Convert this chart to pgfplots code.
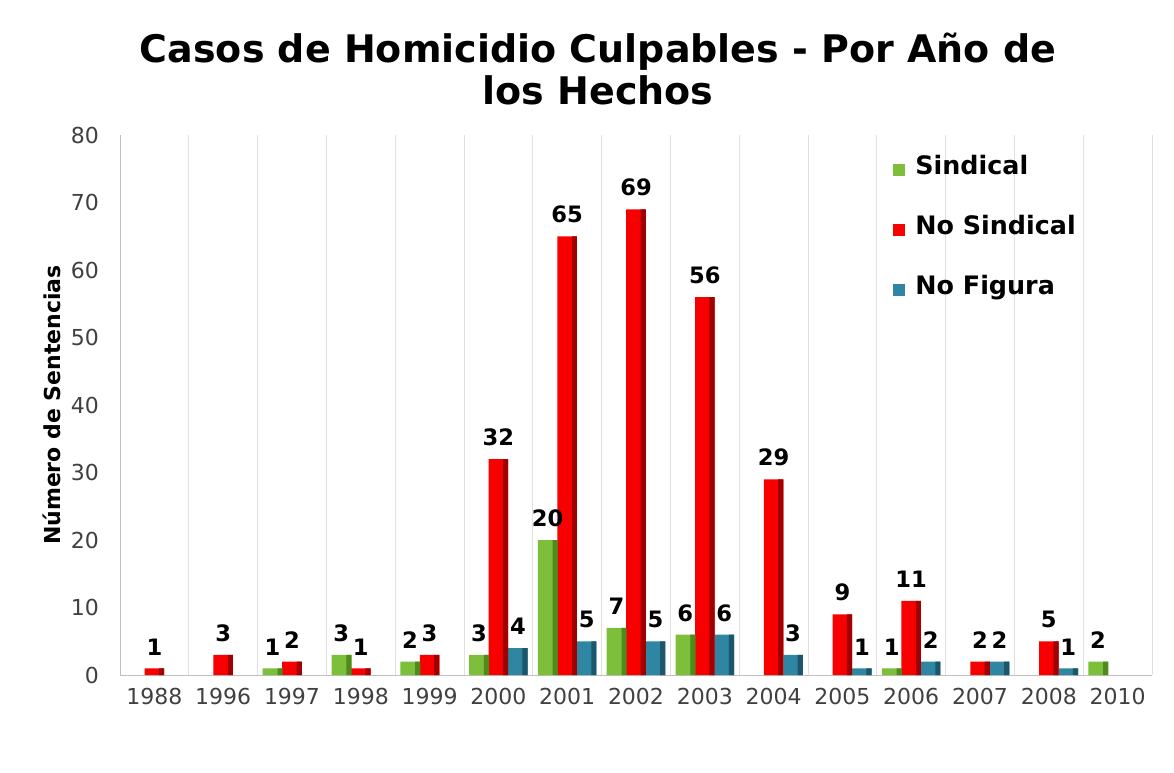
\documentclass[border=0pt]{standalone}
\usepackage{fontspec}
\setmainfont{DejaVu Sans}
\usepackage{pgfplots}
\pgfplotsset{compat=1.18}
\definecolor{sinL}{HTML}{7DBE3A}
\definecolor{sinD}{HTML}{4E8A1C}
\definecolor{nosL}{HTML}{F80000}
\definecolor{nosD}{HTML}{A00000}
\definecolor{nofL}{HTML}{2F86A2}
\definecolor{nofD}{HTML}{1B566B}
\definecolor{tickgray}{HTML}{404040}

\pgfplotstableread{
x sin nos nof
0 0 1 0
1 0 3 0
2 1 2 0
3 3 1 0
4 2 3 0
5 3 32 4
6 20 65 5
7 7 69 5
8 6 56 6
9 0 29 3
10 0 9 1
11 1 11 2
12 0 2 2
13 0 5 1
14 2 0 0
}\datatab

\pgfplotsset{
  mainbar/.style={draw=none, fill=#1, nodes near coords,
    y filter/.expression={y==0 ? nan : y}},
  edgebar/.style={draw=none, fill=#1, forget plot, bar width=2.6pt,
    y filter/.expression={y==0 ? nan : y}},
}

\begin{document}
\begin{tikzpicture}
% page frame, same proportions as the reference
\path (-60pt,-48.5pt) rectangle (527pt,337.5pt);
\begin{axis}[name=ax, at={(0,0)}, anchor=south west, scale only axis,
  width=516pt, height=270pt,
  ybar=0pt, bar width=9.75pt,
  xmin=-0.5, xmax=14.5, ymin=0, ymax=80, ytick={0,10,...,80},
  xtick={0,...,14},
  xticklabels={1988,1996,1997,1998,1999,2000,2001,2002,2003,2004,2005,2006,2007,2008,2010},
  minor xtick={-0.5,0.5,...,14.5}, xminorgrids, minor grid style={black!12},
  axis x line*=bottom, axis y line*=left, axis line style={black!25},
  major tick length=0pt, minor tick length=0pt,
  tick label style={font=\fontsize{11}{13}\selectfont, text=tickgray},
  /pgf/number format/assume math mode=true,
  xticklabel style={yshift=-3pt}, yticklabel style={xshift=-7pt},
  ylabel={Número de Sentencias},
  ylabel style={font=\bfseries\fontsize{11}{13}\selectfont, at={(axis description cs:-0.066,0.5)}, anchor=center},
  nodes near coords style={font=\bfseries\fontsize{11.3}{13}\selectfont, text=black, yshift=3pt},
  legend style={at={(rel axis cs:0.749,0.962)}, anchor=north west, draw=none, fill=none, inner sep=0pt,
    font=\bfseries\fontsize{12.7}{15}\selectfont, /tikz/row sep=16pt, /tikz/column sep=3pt, legend cell align=left,
    nodes={text height=0.75em, text depth=0.25em}},
  legend image code/.code={\path[#1] (0pt,-3pt) rectangle (6pt,3pt);},
]
\addplot[mainbar=sinL, bar shift=-9.75pt] table[x=x, y=sin] {\datatab};
\addlegendentry{Sindical}
\addplot[mainbar=nosL, bar shift=0pt] table[x=x, y=nos] {\datatab};
\addlegendentry{No Sindical}
\addplot[mainbar=nofL, bar shift=9.75pt] table[x=x, y=nof] {\datatab};
\addlegendentry{No Figura}
% darker right edge of each bar
\addplot[edgebar=sinD, bar shift=-5.93pt] table[x=x, y=sin] {\datatab};
\addplot[edgebar=nosD, bar shift=3.58pt] table[x=x, y=nos] {\datatab};
\addplot[edgebar=nofD, bar shift=13.33pt] table[x=x, y=nof] {\datatab};
\end{axis}
\node[font=\bfseries\fontsize{19}{23}\selectfont, anchor=base] at (239pt,306pt) {Casos de Homicidio Culpables - Por Año de};
\node[font=\bfseries\fontsize{19}{23}\selectfont, anchor=base] at (239pt,285pt) {los Hechos};
\end{tikzpicture}
\end{document}
